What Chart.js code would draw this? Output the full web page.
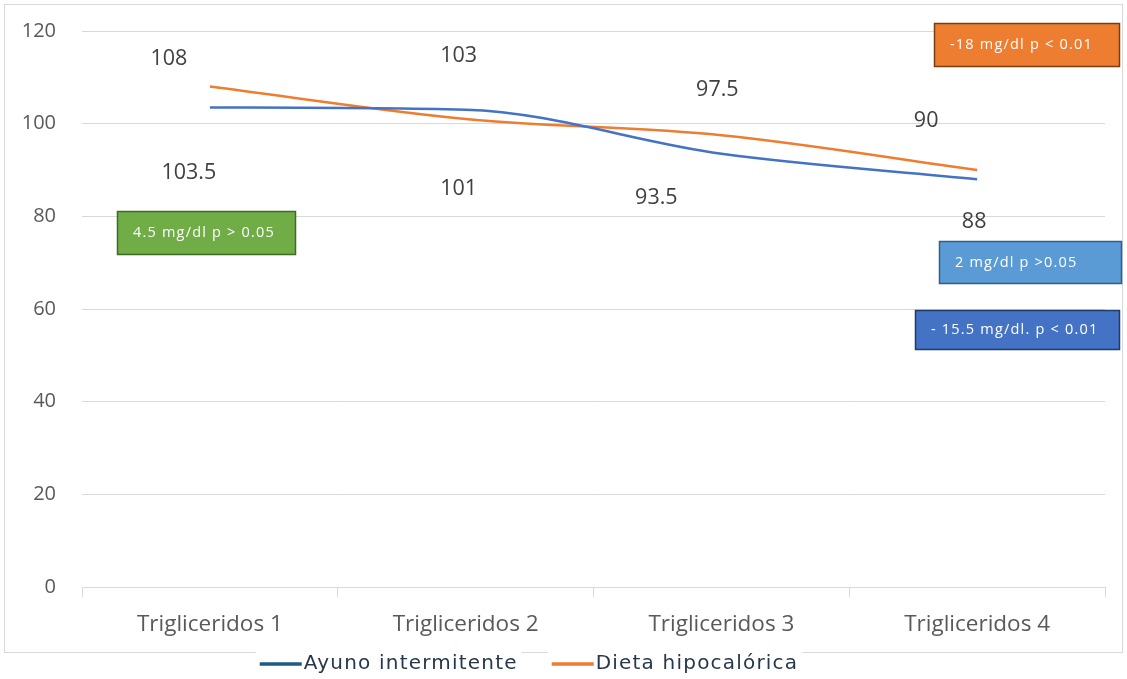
<!DOCTYPE html>
<html>
<head>
<meta charset="utf-8">
<script src="https://cdn.jsdelivr.net/npm/chart.js@4.4.1/dist/chart.umd.min.js"></script>
<style>
    html, body { margin: 0; padding: 0; background: #ffffff; }
    #wrap { width: 1127px; height: 679px; }
</style>
</head>
<body>
<div id="wrap"><canvas id="chart" width="1127" height="679"></canvas></div>
<script>
// Chart data
const categories = ['Trigliceridos 1', 'Trigliceridos 2', 'Trigliceridos 3', 'Trigliceridos 4'];
const ayunoValues = [103.5, 103, 93.5, 88];
const dietaValues = [108, 101, 97.5, 90];
const yTicks = [0, 20, 40, 60, 80, 100, 120];
const seriesNames = ['Ayuno intermitente', 'Dieta hipocalórica'];
const noteTexts = ['4.5 mg/dl p > 0.05', '-18 mg/dl p < 0.01', '2 mg/dl p >0.05', '- 15.5 mg/dl. p < 0.01'];

const FONT = '"Open Sans", "Noto Sans", sans-serif';
const TEXT = '#595959';

// labels: higher value above the pair, lower value below (pixel nudges)
const upperNudge = [[-41, -28], [-7, -54], [-4, -45], [-51, -49]];
const lowerNudge = [[-21, 65], [-7, 70], [-65, 44], [-3, 43]];

// note boxes: x, y, w, h, fill, edge
const noteBoxes = [
    [117, 211, 179, 44, '#70AD47', '#3f6b26'],
    [934, 23, 186, 44, '#ED7D31', '#7a3d12'],
    [939, 241, 183, 43, '#5B9BD5', '#2f5f8c'],
    [915, 310, 205, 40, '#4472C4', '#1f3a6b']
];

const legendColors = ['#1F5A82', '#ED7D31'];

const framePlugin = {
    id: 'frame',
    beforeDraw(chart) {
        const ctx = chart.ctx;
        ctx.save();
        ctx.fillStyle = '#ffffff';
        ctx.fillRect(0, 0, chart.width, chart.height);
        ctx.strokeStyle = '#D9D9D9';
        ctx.lineWidth = 1;
        ctx.strokeRect(4.5, 4.5, 1118, 648);
        ctx.restore();
    }
};

const valueLabelPlugin = {
    id: 'valueLabels',
    afterDatasetsDraw(chart) {
        const ctx = chart.ctx;
        const x = chart.scales.x;
        const y = chart.scales.y;
        ctx.save();
        ctx.font = '21.5px ' + FONT;
        ctx.fillStyle = '#404040';
        ctx.textAlign = 'center';
        ctx.textBaseline = 'middle';
        categories.forEach((c, i) => {
            const hi = Math.max(ayunoValues[i], dietaValues[i]);
            const lo = Math.min(ayunoValues[i], dietaValues[i]);
            const px = x.getPixelForValue(i);
            ctx.fillText(String(hi), px + upperNudge[i][0], y.getPixelForValue(hi) + upperNudge[i][1]);
            ctx.fillText(String(lo), px + lowerNudge[i][0], y.getPixelForValue(lo) + lowerNudge[i][1]);
        });
        ctx.restore();
    }
};

const notesPlugin = {
    id: 'notes',
    afterDraw(chart) {
        const ctx = chart.ctx;
        ctx.save();
        ctx.font = '14.5px ' + FONT;
        ctx.letterSpacing = '1.2px';
        ctx.textBaseline = 'middle';
        ctx.textAlign = 'left';
        noteBoxes.forEach((b, i) => {
            ctx.fillStyle = b[4];
            ctx.fillRect(b[0], b[1], b[2], b[3]);
            ctx.strokeStyle = b[5];
            ctx.lineWidth = 1.5;
            ctx.strokeRect(b[0] + 0.5, b[1] + 0.5, b[2] - 1, b[3] - 1);
            ctx.fillStyle = '#ffffff';
            ctx.fillText(noteTexts[i], b[0] + 16, b[1] + b[3] / 2);
        });
        ctx.restore();
    }
};

// legend drawn by hand under the frame
const legendPlugin = {
    id: 'bottomLegend',
    afterDraw(chart) {
        const ctx = chart.ctx;
        ctx.save();
        ctx.font = '20px "DejaVu Sans", sans-serif';
        ctx.letterSpacing = '1.2px';
        ctx.textBaseline = 'middle';
        const lineW = 42, gap = 2, spacing = 34;
        const widths = seriesNames.map(n => ctx.measureText(n).width);
        const total = widths.reduce((a, w) => a + lineW + gap + w, 0) + spacing;
        let x = 529 - total / 2;
        const y = 664;
        seriesNames.forEach((n, i) => {
            ctx.fillStyle = '#ffffff';
            ctx.fillRect(x - 4, y - 12, lineW + gap + widths[i] + 8, 24);
            ctx.strokeStyle = legendColors[i];
            ctx.lineWidth = 3.5;
            ctx.beginPath();
            ctx.moveTo(x, y);
            ctx.lineTo(x + lineW, y);
            ctx.stroke();
            ctx.fillStyle = '#26384a';
            ctx.fillText(n, x + lineW + gap, y);
            x += lineW + gap + widths[i] + spacing;
        });
        ctx.restore();
    }
};

const ctx = document.getElementById('chart').getContext('2d');
ctx.letterSpacing = '1px';

new Chart(ctx, {
    type: 'line',
    data: {
        labels: categories,
        datasets: [{
            label: seriesNames[0],
            data: ayunoValues,
            borderColor: '#4472C4',
            borderWidth: 2.5,
            pointRadius: 0,
            cubicInterpolationMode: 'monotone'
        }, {
            label: seriesNames[1],
            data: dietaValues,
            borderColor: '#ED7D31',
            borderWidth: 2.5,
            pointRadius: 0,
            cubicInterpolationMode: 'monotone'
        }]
    },
    options: {
        responsive: false,
        animation: false,
        layout: {
            padding: { top: 31, right: 22, left: 0, bottom: 37 }
        },
        plugins: {
            tooltip: { enabled: false },
            legend: { display: false }
        },
        scales: {
            x: {
                offset: true,
                grid: {
                    offset: true,
                    drawOnChartArea: false,
                    color: '#D9D9D9',
                    tickLength: 10
                },
                border: { color: '#D9D9D9' },
                ticks: {
                    color: TEXT,
                    padding: 14,
                    font: { family: FONT, size: 22.5 }
                },
                afterFit(scale) { scale.height = 55; }
            },
            y: {
                min: 0,
                max: 120,
                afterBuildTicks(scale) { scale.ticks = yTicks.map(v => ({ value: v })); },
                grid: { color: '#D9D9D9', drawTicks: true, tickLength: 25, tickColor: 'rgba(0,0,0,0)' },
                border: { display: false },
                ticks: {
                    color: TEXT,
                    padding: 1,
                    font: { family: FONT, size: 20 }
                },
                afterFit(scale) { scale.width = 82; }
            }
        }
    },
    plugins: [framePlugin, valueLabelPlugin, notesPlugin, legendPlugin]
});
</script>
</body>
</html>
